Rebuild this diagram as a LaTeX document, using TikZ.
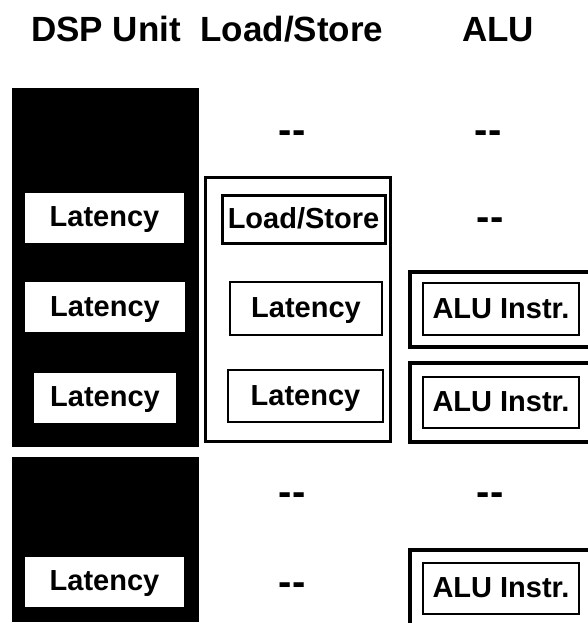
\documentclass[tikz,border=0pt]{standalone}
\usepackage{fontspec}
\setmainfont{Liberation Sans}
\usetikzlibrary{positioning}

\newcommand{\emptyslot}{\mbox{-}\mbox{-}}

\begin{document}
\begin{tikzpicture}[x=1pt,y=-1pt,
  head/.style={font=\fontsize{35}{40}\selectfont\bfseries},
  lab/.style={font=\fontsize{29}{34}\selectfont\bfseries,text height=22pt,text depth=4pt,inner sep=0pt},
  blk/.style={fill=black,minimum width=187,inner sep=0,anchor=north west},
  lat/.style={lab,fill=white,minimum height=50},
  box/.style={lab,draw,line width=2pt},
  frame/.style={draw,line width=3.5pt,inner sep=0},
  none/.style={font=\fontsize{40}{44}\selectfont\bfseries,inner sep=0pt}]
\clip (0,0) rectangle (588,623);

\node[head,anchor=base] (H1) at (106,42) {DSP Unit};
\node[head,anchor=base] (H2) at (292,42) {Load/Store};
\node[head,anchor=base] (H3) at (498,42) {ALU};

% DSP unit
\node[blk,minimum height=359] (D1) at (12,88) {};
\node[blk,minimum height=165] (D2) at (12,457) {};
\node[lat,minimum width=159] (L1) at (104.5,217.5) {Latency};
\node[lat,minimum width=160] (L2) at (105,307) {Latency};
\node[lat,minimum width=142] (L3) at (105,397.5) {Latency};
\node[lat,minimum width=159] (L4) at (104.5,581.5) {Latency};

% load/store
\node[none] (S0) at (292,137) {\emptyslot};
\node[frame,line width=3pt,minimum width=185,minimum height=264] (SF) at (298,309) {};
\node[box,line width=3pt,minimum width=163,minimum height=48] (S1) at (303.5,219) {Load/Store};
\node[box,minimum width=152,minimum height=53] (S2) at (306,308.5) {Latency};
\node[box,minimum width=155,minimum height=52] (S3) at (305.5,396) {Latency};
\node[none] (S4) at (292,499) {\emptyslot};
\node[none] (S5) at (292,589) {\emptyslot};

% ALU
\node[none] (A0) at (488,137) {\emptyslot};
\node[none] (A1) at (490,224) {\emptyslot};
\node[frame,minimum width=190,minimum height=75] (AF2) at (505,309.5) {};
\node[box,minimum width=156,minimum height=52] (A2) at (501,309) {ALU Instr.};
\node[frame,minimum width=190,minimum height=79] (AF3) at (505,402.5) {};
\node[box,minimum width=156,minimum height=51] (A3) at (501,402.5) {ALU Instr.};
\node[none] (A4) at (490,499) {\emptyslot};
\node[frame,minimum width=190,minimum height=76] (AF5) at (505,588) {};
\node[box,minimum width=156,minimum height=51] (A5) at (501,588.5) {ALU Instr.};
\end{tikzpicture}
\end{document}
